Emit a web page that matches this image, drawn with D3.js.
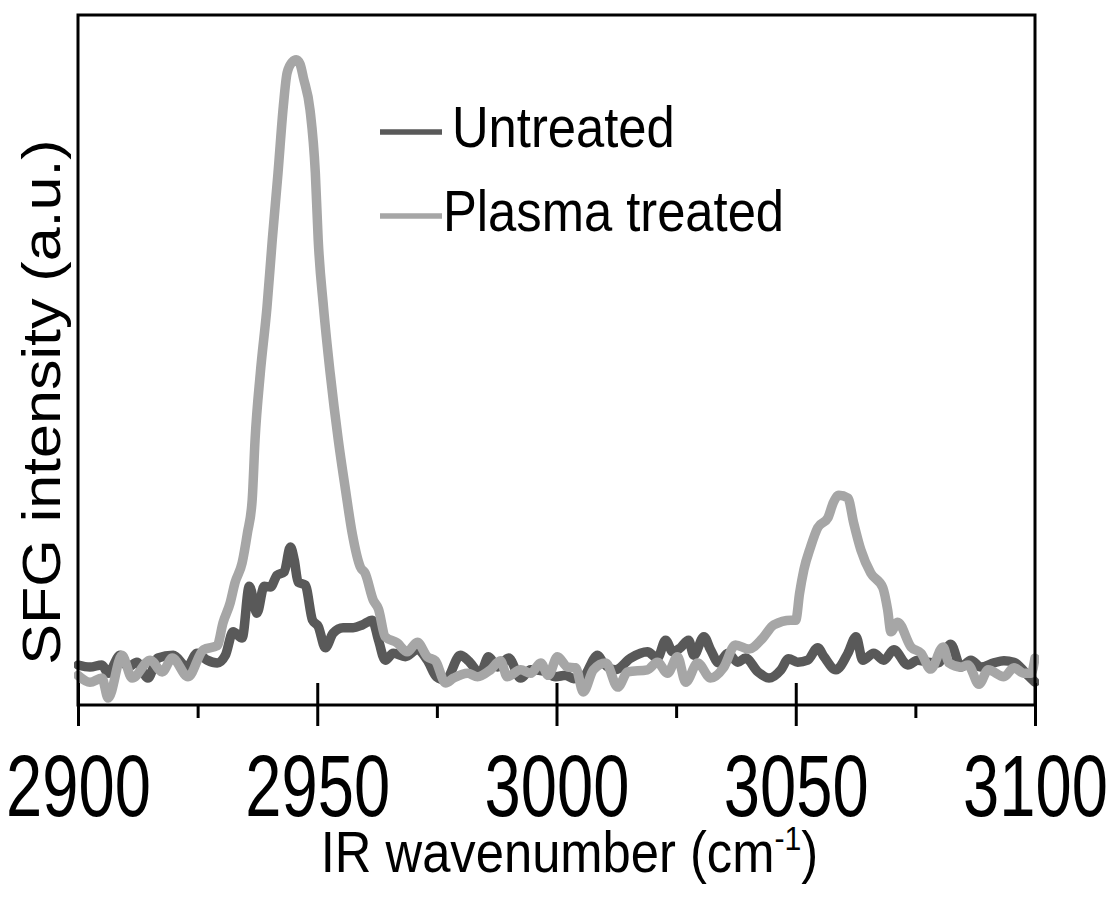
<!DOCTYPE html>
<html>
<head>
<meta charset="utf-8">
<script src="https://cdn.jsdelivr.net/npm/d3@7/dist/d3.min.js"></script>
<style>
  html, body { margin: 0; padding: 0; background: #fff; }
  svg { display: block; }
  text { font-family: "Liberation Sans", Arial, Helvetica, sans-serif; fill: #000; }
</style>
</head>
<body>
<svg id="chart" width="1112" height="900"></svg>
<script>
// SFG spectra, wavenumber (cm-1) vs intensity (arbitrary units)
const untreatedX = [2900.0,2902.5,2905.0,2906.3,2908.8,2910.5,2912.3,2914.6,2916.7,2919.9,2922.8,2924.9,2927.0,2929.1,2930.8,2932.4,2934.3,2935.8,2937.4,2938.9,2940.2,2941.6,2943.1,2944.4,2945.2,2946.0,2947.5,2949.0,2950.2,2951.7,2953.3,2955.4,2957.5,2959.4,2961.5,2962.8,2964.2,2965.9,2968.4,2970.9,2973.0,2974.9,2976.8,2979.9,2981.6,2984.1,2985.8,2987.7,2990.0,2992.5,2994.6,2997.3,2999.8,3001.9,3003.6,3005.6,3008.6,3009.8,3012.3,3015.5,3019.0,3021.1,3022.8,3024.3,3025.9,3027.6,3028.7,3030.8,3032.2,3033.9,3035.8,3037.9,3039.5,3042.1,3044.4,3046.9,3048.5,3050.4,3052.5,3054.6,3055.9,3058.4,3060.9,3062.6,3064.0,3066.3,3068.4,3070.5,3073.4,3075.5,3077.6,3079.7,3082.4,3084.5,3086.6,3088.7,3091.4,3093.5,3095.6,3098.1,3100.0];
const untreatedY = [5.8,5.5,5.8,4.6,7.2,5.5,6.2,3.9,6.8,7.2,5.5,7.5,6.5,6.1,7.2,10.6,9.7,17.2,13.3,17.2,17.1,18.8,19.3,22.9,21.0,17.8,17.4,12.3,11.4,8.3,10.4,11.2,11.2,11.6,12.3,9.4,6.5,7.5,7.0,8.0,6.5,4.1,3.6,7.2,6.4,4.6,7.0,5.5,6.8,3.9,5.1,4.9,4.1,4.3,3.8,4.1,7.2,6.1,5.1,6.8,7.7,6.8,9.4,7.7,8.3,9.4,7.2,9.9,8.0,6.1,7.5,6.2,6.8,4.8,3.9,5.1,6.7,6.2,6.5,8.3,7.0,5.1,7.5,9.9,6.5,7.5,6.5,8.0,5.8,6.5,6.2,6.1,8.8,5.5,6.5,5.5,6.1,6.4,6.2,4.6,3.3];

const plasmaX = [2900.0,2902.5,2905.0,2906.3,2909.2,2911.3,2915.1,2917.6,2919.7,2923.0,2926.2,2929.1,2930.3,2931.8,2932.8,2934.3,2935.4,2936.4,2937.0,2938.1,2939.5,2940.6,2941.8,2942.9,2943.7,2944.8,2945.6,2946.4,2947.1,2948.5,2949.6,2950.2,2951.3,2952.7,2954.4,2955.9,2957.3,2959.0,2960.0,2961.7,2962.8,2964.2,2966.7,2968.8,2970.9,2973.0,2974.7,2976.8,2978.5,2981.4,2983.5,2986.2,2988.3,2989.7,2992.5,2994.6,2996.7,2998.3,3000.2,3002.3,3004.0,3005.6,3007.7,3010.3,3012.8,3014.9,3019.0,3021.1,3023.2,3025.3,3027.0,3029.5,3032.2,3034.9,3037.4,3040.2,3043.1,3045.4,3049.0,3050.0,3050.8,3051.7,3053.1,3054.6,3056.7,3057.9,3059.0,3060.9,3062.1,3063.6,3065.7,3068.2,3069.2,3069.9,3071.3,3074.1,3076.2,3078.2,3080.8,3082.0,3084.5,3086.0,3088.3,3090.2,3093.5,3095.6,3097.7,3099.2,3100.0];
const plasmaY = [4.3,3.3,3.9,1.0,7.2,3.9,6.5,4.8,6.8,4.1,8.0,8.6,11.9,14.8,17.7,20.6,24.9,29.7,38.4,48.1,57.7,67.4,77.1,86.7,91.6,93.2,93.5,92.9,90.9,86.2,77.1,67.4,57.7,48.1,38.4,31.2,24.9,20.0,19.1,15.2,13.9,9.9,9.0,7.7,9.1,7.0,6.4,3.2,3.9,4.6,4.1,5.1,6.4,4.1,5.1,4.6,6.1,4.3,7.0,5.5,5.4,1.9,5.1,6.1,2.6,4.8,5.1,6.2,4.6,7.0,3.3,6.1,3.9,5.4,8.7,8.1,9.7,11.6,12.3,12.3,16.2,19.6,22.9,25.7,27.1,29.4,30.4,30.0,26.4,22.5,19.1,17.0,13.8,10.6,12.0,8.4,7.5,5.2,8.4,6.1,5.5,5.8,3.0,5.1,4.1,5.4,4.6,4.6,6.8];

const seriesNames = ["Untreated", "Plasma treated"];
const seriesColors = ["#595959", "#a6a6a6"];
const majorTicks = [2900, 2950, 3000, 3050, 3100];
const minorTicks = [2925, 2975, 3025, 3075];
const xTitle = "IR wavenumber (cm";
const xTitleSup = "-1";
const yTitle = "SFG intensity (a.u.)";

const svg = d3.select("#chart");
const plotLeft = 78, plotRight = 1035, plotTop = 15, plotBottom = 705;
const squeeze = 0.89;      // narrow glyph proportion for titles and legend
const tickSqueeze = 0.74;  // tick numerals are drawn taller and narrower

const x = d3.scaleLinear().domain([2900, 3100]).range([plotLeft, plotRight]);
const y = d3.scaleLinear().domain([0, 100]).range([plotBottom, plotTop]);

// spectra
const line = d3.line()
  .x(d => x(d[0]))
  .y(d => y(d[1]))
  .curve(d3.curveMonotoneX);

svg.append("clipPath").attr("id", "plotclip")
  .append("rect")
  .attr("x", plotLeft - 4).attr("y", plotTop)
  .attr("width", plotRight - plotLeft + 8).attr("height", plotBottom - plotTop);

const plotG = svg.append("g").attr("clip-path", "url(#plotclip)");
const series = [
  d3.zip(untreatedX, untreatedY),
  d3.zip(plasmaX, plasmaY)
];
series.forEach((pts, i) => {
  plotG.append("path")
    .datum(pts)
    .attr("d", line)
    .attr("fill", "none")
    .attr("stroke", seriesColors[i])
    .attr("stroke-width", 9.5)
    .attr("stroke-linejoin", "round")
    .attr("stroke-linecap", "round");
});

// frame
svg.append("rect")
  .attr("x", plotLeft).attr("y", plotTop)
  .attr("width", plotRight - plotLeft).attr("height", plotBottom - plotTop)
  .attr("fill", "none").attr("stroke", "#000").attr("stroke-width", 3);

// x axis: major ticks cross the axis line, minor ticks point outward
const axisOut = svg.append("g").attr("transform", `translate(0,${plotBottom})`)
  .call(d3.axisBottom(x).tickValues(majorTicks).tickSize(21).tickFormat(d3.format("d")));
axisOut.select(".domain").remove();
axisOut.selectAll("line").attr("stroke", "#000").attr("stroke-width", 3);
axisOut.selectAll("text")
  .attr("y", 111).attr("dy", null)
  .attr("font-size", 88)
  .attr("font-family", "'Liberation Sans', Arial, sans-serif")
  .attr("transform", `scale(${tickSqueeze},1)`)
  .attr("fill", "#000");

const axisIn = svg.append("g").attr("transform", `translate(0,${plotBottom})`)
  .call(d3.axisTop(x).tickValues(majorTicks).tickSize(22).tickFormat(""));
axisIn.select(".domain").remove();
axisIn.selectAll("line").attr("stroke", "#000").attr("stroke-width", 3);

const axisMinor = svg.append("g").attr("transform", `translate(0,${plotBottom})`)
  .call(d3.axisBottom(x).tickValues(minorTicks).tickSize(13).tickFormat(""));
axisMinor.select(".domain").remove();
axisMinor.selectAll("line").attr("stroke", "#000").attr("stroke-width", 3);

// axis titles
const xt = svg.append("text")
  .attr("transform", `translate(${(plotLeft + plotRight) / 2 + 13},872) scale(${squeeze},1)`)
  .attr("text-anchor", "middle")
  .attr("font-size", 57);
xt.append("tspan").text(xTitle);
xt.append("tspan").attr("font-size", 34).attr("dy", -22).text(xTitleSup);
xt.append("tspan").attr("dy", 22).text(")");

svg.append("text")
  .attr("transform", `translate(60,402) rotate(-90) scale(1,${squeeze})`)
  .attr("text-anchor", "middle")
  .attr("font-size", 61)
  .text(yTitle);

// legend
const legendRows = [132, 216];
const legendTextX = [452, 443];
seriesNames.forEach((name, i) => {
  svg.append("line")
    .attr("x1", 380).attr("x2", 442)
    .attr("y1", legendRows[i]).attr("y2", legendRows[i])
    .attr("stroke", seriesColors[i]).attr("stroke-width", 5.5);
  svg.append("text")
    .attr("transform", `translate(${legendTextX[i]},${legendRows[i] + 15}) scale(${squeeze},1)`)
    .attr("font-size", 57)
    .text(name);
});
</script>
</body>
</html>
